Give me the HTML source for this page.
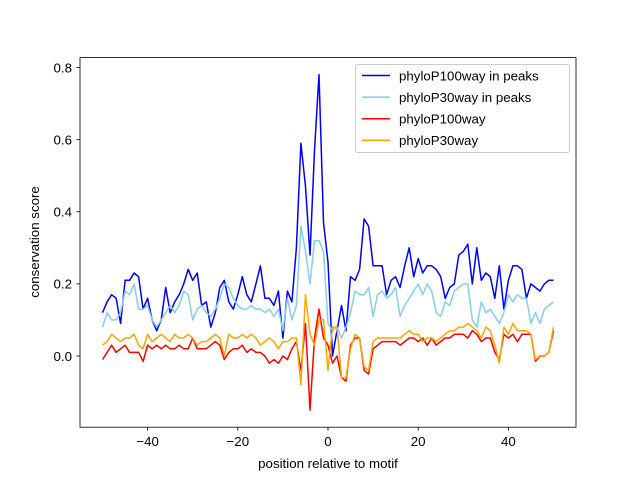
<!DOCTYPE html>
<html><head><meta charset="utf-8"><style>
body{margin:0;background:#fff;}
svg{display:block;font-family:"Liberation Sans","DejaVu Sans",sans-serif;}
</style></head><body>
<svg id="chart" width="640" height="480">
<g id="plot"></g>
<rect x="80" y="57.6" width="496" height="369.6" fill="none" stroke="#000" stroke-width="0.8"/>
<g id="xt"></g><g id="yt"></g>
<text x="328" y="468" text-anchor="middle" font-size="13.3">position relative to motif</text>
<text transform="translate(39,242) rotate(-90)" text-anchor="middle" font-size="13.3">conservation score</text>
<g>
<rect x="355.5" y="64.5" width="214" height="88" rx="2" fill="#fff" fill-opacity="0.8" stroke="#ccc" stroke-width="1"/>
<g id="leg"></g>
</g>
</svg>
<script>
const positions=[];for(let i=-50;i<=50;i++)positions.push(i);
const seriesNames=["phyloP100way in peaks","phyloP30way in peaks","phyloP100way","phyloP30way"];
const seriesColors=["#0000ff","#87ceeb","#ff0000","#ffa500"];
const p100peaks=[0.12,0.15,0.17,0.16,0.09,0.21,0.21,0.23,0.22,0.13,0.16,0.1,0.07,0.1,0.19,0.12,0.15,0.17,0.2,0.24,0.21,0.23,0.14,0.15,0.08,0.12,0.19,0.21,0.15,0.13,0.17,0.22,0.17,0.15,0.2,0.25,0.16,0.16,0.14,0.18,0.05,0.18,0.15,0.3,0.59,0.47,0.28,0.57,0.78,0.37,0.26,0.0,0.07,0.14,0.07,0.22,0.21,0.24,0.38,0.36,0.25,0.25,0.25,0.17,0.21,0.22,0.19,0.25,0.3,0.22,0.27,0.23,0.25,0.25,0.24,0.22,0.16,0.19,0.2,0.28,0.29,0.31,0.2,0.3,0.21,0.23,0.22,0.16,0.25,0.13,0.21,0.25,0.25,0.24,0.16,0.2,0.19,0.18,0.2,0.21,0.21];
const p30peaks=[0.08,0.12,0.1,0.1,0.12,0.18,0.17,0.2,0.13,0.13,0.14,0.1,0.08,0.1,0.12,0.14,0.12,0.14,0.18,0.17,0.1,0.13,0.14,0.12,0.11,0.13,0.16,0.2,0.19,0.16,0.14,0.13,0.13,0.14,0.13,0.13,0.12,0.13,0.11,0.13,0.07,0.16,0.1,0.14,0.36,0.29,0.2,0.32,0.32,0.29,0.09,0.07,0.08,0.05,0.08,0.12,0.18,0.17,0.17,0.19,0.11,0.17,0.18,0.16,0.17,0.19,0.11,0.14,0.16,0.18,0.2,0.17,0.2,0.18,0.12,0.11,0.15,0.14,0.18,0.19,0.2,0.2,0.1,0.08,0.15,0.12,0.13,0.11,0.09,0.12,0.17,0.15,0.17,0.16,0.16,0.09,0.12,0.09,0.13,0.14,0.15];
const p100all=[-0.01,0.01,0.03,0.01,0.02,0.03,0.01,0.01,0.01,-0.015,0.03,0.02,0.03,0.02,0.03,0.02,0.02,0.03,0.02,0.02,0.05,0.02,0.02,0.02,0.03,0.04,0.03,-0.01,0.01,0.02,0.02,0.03,0.01,0.02,0.01,0.01,0.0,-0.02,-0.01,-0.02,0.0,-0.01,0.02,0.04,-0.04,0.09,-0.15,0.05,0.13,0.05,0.03,-0.02,0.0,-0.06,-0.07,0.03,0.05,0.05,-0.04,-0.05,0.02,0.03,0.04,0.04,0.04,0.04,0.03,0.04,0.05,0.05,0.04,0.05,0.03,0.05,0.03,0.04,0.05,0.05,0.06,0.06,0.06,0.05,0.07,0.06,0.04,0.05,0.05,0.01,-0.01,0.06,0.05,0.06,0.04,0.06,0.06,0.06,-0.015,0.0,0.0,0.01,0.07];
const p30all=[0.03,0.04,0.06,0.05,0.04,0.05,0.05,0.06,0.03,0.02,0.06,0.04,0.05,0.06,0.05,0.04,0.06,0.05,0.05,0.06,0.05,0.03,0.04,0.04,0.05,0.06,0.05,0.0,0.06,0.05,0.05,0.06,0.05,0.06,0.05,0.03,0.04,0.05,0.04,0.02,0.04,0.04,0.05,0.05,-0.08,0.17,0.06,0.03,0.1,0.1,-0.04,0.08,0.08,-0.06,-0.06,0.02,0.06,0.05,-0.03,-0.04,0.04,0.05,0.05,0.05,0.05,0.05,0.05,0.06,0.07,0.06,0.06,0.04,0.05,0.05,0.04,0.05,0.06,0.07,0.07,0.08,0.08,0.09,0.08,0.07,0.05,0.08,0.07,0.03,-0.02,0.08,0.06,0.09,0.07,0.07,0.07,0.06,-0.01,0.0,0.0,0.01,0.08];
const xTicks=[-40,-20,0,20,40];
const yTicks=[0.0,0.2,0.4,0.6,0.8];
const yTickLabels=["0.0","0.2","0.4","0.6","0.8"];
const NS="http://www.w3.org/2000/svg";
const xS=v=>80+(v+55)/110*496;
const yS=v=>427.2-(v+0.1975)/(0.8275+0.1975)*369.6;
const plot=document.getElementById('plot');
[p100peaks,p30peaks,p100all,p30all].forEach((s,k)=>{
 const p=document.createElementNS(NS,'polyline');
 p.setAttribute('points',s.map((v,i)=>xS(positions[i]).toFixed(1)+','+yS(v).toFixed(1)).join(' '));
 p.setAttribute('fill','none');p.setAttribute('stroke',seriesColors[k]);p.setAttribute('stroke-width','1.5');
 p.setAttribute('stroke-linejoin','round');
 
 
 plot.appendChild(p);
});
const xt=document.getElementById('xt');
xTicks.forEach(t=>{
 const l=document.createElementNS(NS,'line');const x=xS(t);
 l.setAttribute('x1',x);l.setAttribute('x2',x);l.setAttribute('y1',427.2);l.setAttribute('y2',430.7);l.setAttribute('stroke','#000');l.setAttribute('stroke-width','0.8');
 
 
 xt.appendChild(l);
 const tx=document.createElementNS(NS,'text');tx.setAttribute('x',x);tx.setAttribute('y',446);tx.setAttribute('text-anchor','middle');tx.setAttribute('font-size','13.3');
 tx.textContent=(t<0?'\u2212'+(-t):t);
 
 
 xt.appendChild(tx);
});
const yt=document.getElementById('yt');
yTicks.forEach((t,i)=>{
 const y=yS(t);const l=document.createElementNS(NS,'line');
 l.setAttribute('x1',76.5);l.setAttribute('x2',80);l.setAttribute('y1',y);l.setAttribute('y2',y);l.setAttribute('stroke','#000');l.setAttribute('stroke-width','0.8');
 
 
 yt.appendChild(l);
 const tx=document.createElementNS(NS,'text');tx.setAttribute('x',72);tx.setAttribute('y',y+4.8);tx.setAttribute('text-anchor','end');tx.setAttribute('font-size','13.3');
 tx.textContent=yTickLabels[i];
 
 
 yt.appendChild(tx);
});
const leg=document.getElementById('leg');
seriesNames.forEach((n,k)=>{
 const y=75.5+k*21.6;const l=document.createElementNS(NS,'line');
 l.setAttribute('x1',362);l.setAttribute('x2',390);l.setAttribute('y1',y);l.setAttribute('y2',y);l.setAttribute('stroke',seriesColors[k]);l.setAttribute('stroke-width','1.5');
 
 
 leg.appendChild(l);
 const tx=document.createElementNS(NS,'text');tx.setAttribute('x',399);tx.setAttribute('y',y+4.8);tx.setAttribute('font-size','13.3');tx.textContent=n;
 
 
 leg.appendChild(tx);
});
</script>
</body></html>
